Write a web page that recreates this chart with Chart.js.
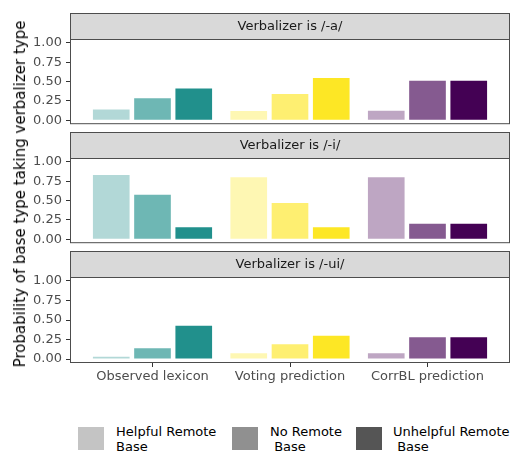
<!DOCTYPE html>
<html>
<head>
<meta charset="utf-8">
<script src="https://cdn.jsdelivr.net/npm/chart.js@4"></script>
<style>
  body { margin: 0; background: #fff; }
  #wrap { position: relative; width: 512px; height: 455px; font-family: "DejaVu Sans", sans-serif; }
  .panel { position: absolute; left: 0; width: 512px; }
  #ytitle {
    position: absolute; left: 20px; top: 194px; white-space: nowrap;
    transform: translate(-50%, -50%) rotate(-90deg);
    font-size: 15px; color: #000;
  }
  .key { position: absolute; top: 427px; width: 26px; height: 23px; }
  .keytext { position: absolute; top: 424px; font-size: 13px; line-height: 15px; color: #000; white-space: pre; }
</style>
</head>
<body>
<div id="wrap">
  <div class="panel" id="p0" style="top:11px;height:125px"><canvas id="c0"></canvas></div>
  <div class="panel" id="p1" style="top:130px;height:125px"><canvas id="c1"></canvas></div>
  <div class="panel" id="p2" style="top:249px;height:136px"><canvas id="c2"></canvas></div>
  <div id="ytitle">Probability of base type taking verbalizer type</div>
  <div id="legend"></div>
</div>
<script>
// categories on the x axis
const categories = ['Observed lexicon', 'Voting prediction', 'CorrBL prediction'];
const baseTypes = ['Helpful Remote\nBase', 'No Remote\n Base', 'Unhelpful Remote\n Base'];
const facets = ['Verbalizer is /-a/', 'Verbalizer is /-i/', 'Verbalizer is /-ui/'];
const yTicks = [0, 0.25, 0.5, 0.75, 1];

// probabilities, one value per category
const aHelpful = [0.14, 0.12, 0.125];
const aNo = [0.285, 0.34, 0.51];
const aUnhelpful = [0.41, 0.545, 0.51];

const iHelpful = [0.83, 0.80, 0.80];
const iNo = [0.575, 0.47, 0.20];
const iUnhelpful = [0.155, 0.155, 0.20];

const uiHelpful = [0.03, 0.075, 0.075];
const uiNo = [0.14, 0.19, 0.28];
const uiUnhelpful = [0.425, 0.30, 0.28];

const facetValues = [
  [aHelpful, aNo, aUnhelpful],
  [iHelpful, iNo, iUnhelpful],
  [uiHelpful, uiNo, uiUnhelpful]
];

// colours per category, alpha per base type
const categoryColors = [[33, 144, 140], [253, 231, 37], [68, 1, 84]];
const baseAlphas = [0.35, 0.65, 1];

const FONT = '"DejaVu Sans", sans-serif';

// grey strip + panel border like ggplot facets
const stripPlugin = {
  id: 'strip',
  afterDraw(chart, args, opts) {
    const { left, right, top, bottom } = chart.chartArea;
    const ctx = chart.ctx;
    const h = 26;
    ctx.save();
    ctx.fillStyle = '#d9d9d9';
    ctx.fillRect(left, top - h, right - left, h);
    ctx.strokeStyle = '#4d4d4d';
    ctx.lineWidth = 1;
    ctx.strokeRect(left + 0.5, top - h + 0.5, right - left - 1, h);
    ctx.strokeRect(left + 0.5, top + 0.5, right - left - 1, bottom - top - 1);
    ctx.fillStyle = '#1a1a1a';
    ctx.font = '13px ' + FONT;
    ctx.textAlign = 'center';
    ctx.textBaseline = 'middle';
    ctx.fillText(opts.text, (left + right) / 2, top - h / 2 + 1);
    ctx.restore();
  }
};

function makePanel(idx, showX) {
  const datasets = facetValues[idx].map((vals, b) => ({
    label: baseTypes[b],
    data: vals.map((v, i) => ({ x: i + 1, y: v })),
    backgroundColor: categoryColors.map(c => `rgba(${c[0]},${c[1]},${c[2]},${baseAlphas[b]})`),
    borderWidth: 0,
    categoryPercentage: 0.9,
    barPercentage: 0.889
  }));

  new Chart(document.getElementById('c' + idx), {
    type: 'bar',
    data: { datasets: datasets },
    plugins: [stripPlugin],
    options: {
      responsive: true,
      maintainAspectRatio: false,
      animation: false,
      devicePixelRatio: 1,
      layout: { padding: { top: 28, bottom: showX ? 0 : 8, left: 0, right: 2 } },
      plugins: {
        legend: { display: false },
        tooltip: { enabled: false },
        strip: { text: facets[idx] }
      },
      scales: {
        x: {
          type: 'linear',
          min: 0.4,
          max: 3.6,
          offset: false,
          display: showX,
          afterBuildTicks: s => { s.ticks = categories.map((c, i) => ({ value: i + 1 })); },
          afterFit: s => { s.height = showX ? 22 : 0; },
          border: { display: false },
          grid: { offset: false, drawOnChartArea: false, drawTicks: true, tickLength: 4, color: '#333' },
          ticks: {
            padding: 2,
            color: '#4d4d4d',
            font: { family: FONT, size: 13 },
            maxRotation: 0,
            autoSkip: false,
            callback: v => categories[v - 1]
          }
        },
        y: {
          min: -0.05,
          max: 1.05,
          afterBuildTicks: s => { s.ticks = yTicks.map(v => ({ value: v })); },
          afterFit: s => { s.width = 70; },
          border: { display: false },
          grid: { drawOnChartArea: false, drawTicks: true, tickLength: 4, color: '#333' },
          ticks: {
            padding: 4,
            autoSkip: false,
            color: '#4d4d4d',
            font: { family: FONT, size: 13 },
            callback: v => v.toFixed(2)
          }
        }
      }
    }
  });
}

makePanel(0, false);
makePanel(1, false);
makePanel(2, true);

// legend with grey keys
const legendEl = document.getElementById('legend');
const keyLeft = [78, 232, 356];
const textLeft = [116, 270, 393];
baseTypes.forEach((name, b) => {
  const g = 85;
  const box = document.createElement('div');
  box.className = 'key';
  box.style.left = keyLeft[b] + 'px';
  box.style.background = `rgba(${g},${g},${g},${baseAlphas[b]})`;
  legendEl.appendChild(box);
  const txt = document.createElement('div');
  txt.className = 'keytext';
  txt.style.left = textLeft[b] + 'px';
  txt.textContent = name;
  legendEl.appendChild(txt);
});
</script>
</body>
</html>
